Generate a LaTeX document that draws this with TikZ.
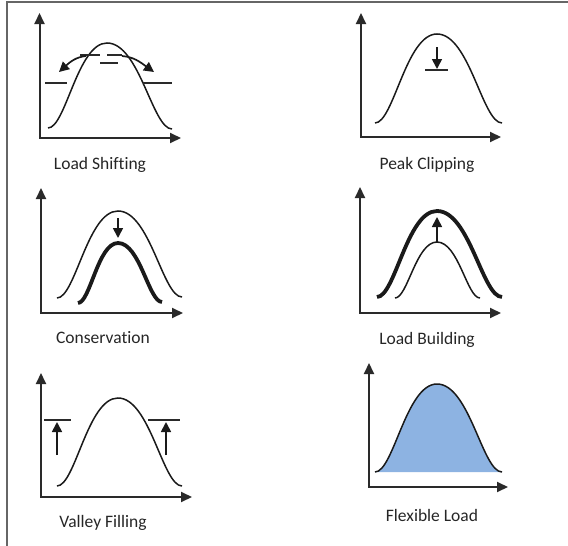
\documentclass[tikz,border=0pt]{standalone}
\usepackage{fontspec}
\setmainfont{Carlito}[Ligatures=NoCommon]
\usetikzlibrary{arrows.meta}
\definecolor{ink}{HTML}{1A1A1A}
\definecolor{axisc}{HTML}{2A2A2A}
\definecolor{txt}{HTML}{262626}
\definecolor{fillblue}{HTML}{8DB3E2}
\newcommand\bellcurve[7]{\draw[#1] (#2,#3) .. controls ({#2+0.3*(#4-#2)},#3) and ({#2+0.5*(#4-#2)},#5) .. (#4,#5) .. controls ({#4+0.5*(#6-#4)},#5) and ({#4+0.7*(#6-#4)},#7) .. (#6,#7);}
\tikzset{
  axis/.style={draw=axisc, line width=2pt, {Triangle[length=11pt,width=10pt]}-{Triangle[length=11pt,width=10pt]}},
  thincurve/.style={draw=ink, line width=1.5pt},
  thickcurve/.style={draw=ink, line width=3.8pt},
  bar/.style={draw=axisc, line width=1.7pt},
  marker/.style={draw=ink, line width=1.7pt, -{Triangle[length=10pt,width=10pt]}},
  lbl/.style={text=txt, font=\fontsize{17.5}{20}\selectfont, inner sep=0pt},
  frame/.style={draw=gray!80!black, line width=1.4pt}
}
\begin{document}
\begin{tikzpicture}[x=1pt,y=-1pt]
\useasboundingbox (0,0) rectangle (568,546);
% frame
\draw[frame] (568,2) -- (7,2) -- (7,546);

% Panel 1: Load Shifting
\draw[axis] (39.5,13) -- (39.5,138) -- (181,138);
\bellcurve{thincurve}{48}{128}{107}{43}{172}{129}
\draw[bar] (45,83) -- (67,83);
\draw[bar] (143,83) -- (172,83);
\draw[bar] (100,63) -- (118,63);
\draw[bar] (80,55) -- (100,55);
\draw[bar] (107,55) -- (122,55);
\draw[marker] (86,56) .. controls (76,57) and (70,62) .. (59,72);
\draw[marker] (122,56) .. controls (134,57) and (140,62) .. (154,72);
\node[lbl] (l1) at (100,165) {Load Shifting};

% Panel 2: Peak Clipping
\draw[axis] (361,13) -- (361,137) -- (501,137);
\bellcurve{thincurve}{375}{123}{437}{34}{502}{123}
\draw[marker] (437,47) -- (437,69);
\draw[bar] (425,70) -- (448,70);
\node[lbl] (l2) at (427,165) {Peak Clipping};

% Panel 3: Conservation
\draw[axis] (41,188) -- (41,313) -- (183,313);
\bellcurve{thincurve}{57}{298}{118}{211}{182}{297}
\bellcurve{thickcurve}{78}{303}{118}{243}{162}{302}
\draw[marker] (118,218) -- (118,238);
\node[lbl] (l3) at (103,338) {Conservation};

% Panel 4: Load Building
\draw[axis] (360,187) -- (360,313) -- (501,313);
\bellcurve{thickcurve}{377}{297}{437}{211}{502}{297}
\bellcurve{thincurve}{395}{298}{437}{242}{480}{298}
\draw[marker] (437,242) -- (437,217);
\node[lbl] (l4) at (427,340) {Load Building};

% Panel 5: Valley Filling
\draw[axis] (41,373) -- (41,497) -- (192,497);
\bellcurve{thincurve}{57}{486}{118}{398}{182}{486}
\draw[bar] (44,420) -- (71,420);
\draw[bar] (148,420) -- (180,420);
\draw[marker] (57,455) -- (57,422);
\draw[marker] (166,455) -- (166,422);
\node[lbl] (l5) at (103,523) {Valley Filling};

% Panel 6: Flexible Load
\fill[fillblue] (375,472) .. controls ({375+0.3*(437-375)},472) and ({375+0.5*(437-375)},384) .. (437,384) .. controls ({437+0.5*(502-437)},384) and ({437+0.7*(502-437)},472) .. (502,472) -- cycle;
\bellcurve{thincurve}{375}{472}{437}{384}{502}{472}
\draw[axis] (369,363) -- (369,487) -- (508,487);
\node[lbl] (l6) at (432,515) {Flexible Load};
\end{tikzpicture}
\end{document}
